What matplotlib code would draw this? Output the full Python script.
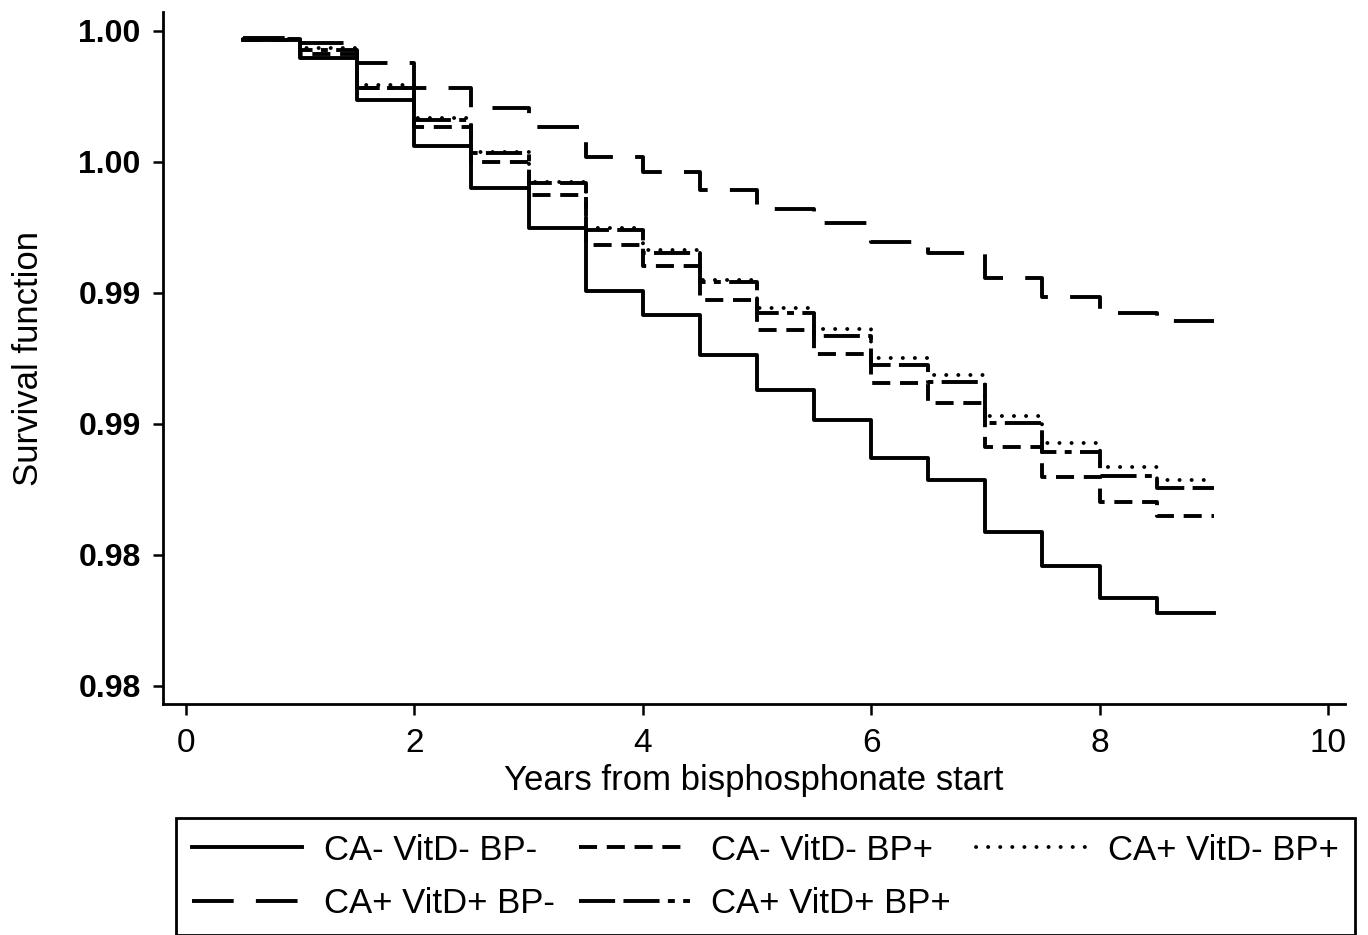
import matplotlib
matplotlib.use('Agg')
import matplotlib.pyplot as plt

plt.rcParams['font.family'] = ['Liberation Sans', 'DejaVu Sans']
plt.rcParams['lines.scale_dashes'] = False

# Step times (years) and survival estimates
TIMES = [0.5, 1.0, 1.5, 2.0, 2.5, 3.0, 3.5, 4.0, 4.5, 5.0,
         5.5, 6.0, 6.5, 7.0, 7.5, 8.0, 8.5, 9.0]

S_CAm_VDm_BPm = [0.99973, 0.99918, 0.99789, 0.99649, 0.99521, 0.99398, 0.99206,
                 0.99133, 0.99011, 0.98904, 0.98812, 0.98696, 0.98629, 0.98470,
                 0.98366, 0.98269, 0.98223]
S_CAm_VDm_BPp = [0.99973, 0.99930, 0.99826, 0.99707, 0.99600, 0.99499, 0.99347,
                 0.99282, 0.99179, 0.99087, 0.99014, 0.98925, 0.98864, 0.98730,
                 0.98638, 0.98562, 0.98519]
S_CAp_VDm_BPp = [0.99976, 0.99948, 0.99835, 0.99734, 0.99631, 0.99539, 0.99398,
                 0.99331, 0.99240, 0.99154, 0.99090, 0.99002, 0.98950, 0.98824,
                 0.98742, 0.98669, 0.98629]
S_CAp_VDp_BPm = [0.99979, 0.99963, 0.99902, 0.99826, 0.99765, 0.99707, 0.99615,
                 0.99569, 0.99514, 0.99456, 0.99414, 0.99356, 0.99322, 0.99246,
                 0.99188, 0.99139, 0.99114]
S_CAp_VDp_BPp = [0.99976, 0.99942, 0.99826, 0.99728, 0.99627, 0.99536, 0.99392,
                 0.99322, 0.99234, 0.99139, 0.99069, 0.98980, 0.98928, 0.98803,
                 0.98714, 0.98641, 0.98605]

LABELS = ['CA- VitD- BP-', 'CA- VitD- BP+', 'CA+ VitD- BP+',
          'CA+ VitD+ BP-', 'CA+ VitD+ BP+']

XTICKS = [0, 2, 4, 6, 8, 10]
YTICKS = [0.980, 0.984, 0.988, 0.992, 0.996, 1.000]
YTICK_LABELS = ['0.98', '0.98', '0.99', '0.99', '1.00', '1.00']

W, H = 1368, 935
fig = plt.figure(figsize=(W / 100, H / 100), dpi=100)
ax = fig.add_axes([163 / W, 1 - 704 / H, (1345 - 163) / W, (704 - 12) / H])

styles = [
    dict(linestyle='-'),
    dict(linestyle=(0, (13, 7))),
    dict(linestyle=(0, (0.1, 8.6)), dash_capstyle='round'),
    dict(linestyle=(0, (30, 16))),
    dict(linestyle=(0, (26, 6, 26, 6, 5, 6))),
]
series = [S_CAm_VDm_BPm, S_CAm_VDm_BPp, S_CAp_VDm_BPp, S_CAp_VDp_BPm, S_CAp_VDp_BPp]

lines = []
for vals, lab, st in zip(series, LABELS, styles):
    ys = vals + [vals[-1]]
    ln, = ax.step(TIMES, ys, where='post', color='black', lw=2.8, label=lab, **st)
    lines.append(ln)

ax.set_xlim(-0.2014, 10.149)
ax.set_ylim(0.97945, 1.00058)
ax.set_xticks(XTICKS)
ax.set_yticks(YTICKS)
ax.set_yticklabels(YTICK_LABELS, fontweight='bold')

for s in ['top', 'right']:
    ax.spines[s].set_visible(False)
for s in ['left', 'bottom']:
    ax.spines[s].set_linewidth(2.0)

ax.tick_params(axis='x', length=8, width=1.8, pad=9, labelsize=24)
ax.tick_params(axis='y', length=7, width=1.8, pad=9, labelsize=23)

ax.set_xlabel('Years from bisphosphonate start', fontsize=25, labelpad=4)
ax.set_ylabel('Survival function', fontsize=25, labelpad=24)

# legend filled row by row like the original
order = [0, 3, 1, 4, 2]
leg = fig.legend([lines[i] for i in order], [LABELS[i] for i in order],
                 loc='upper left', bbox_to_anchor=(176 / W, 1 - 818 / H),
                 bbox_transform=fig.transFigure, ncol=3, frameon=True,
                 fancybox=False, edgecolor='black', framealpha=1,
                 borderpad=0.45, borderaxespad=0, handlelength=3.17,
                 handletextpad=0.63, columnspacing=0.72, labelspacing=0.58,
                 fontsize=25)
leg.get_frame().set_linewidth(2.0)

fig.savefig('out.png', dpi=100)
